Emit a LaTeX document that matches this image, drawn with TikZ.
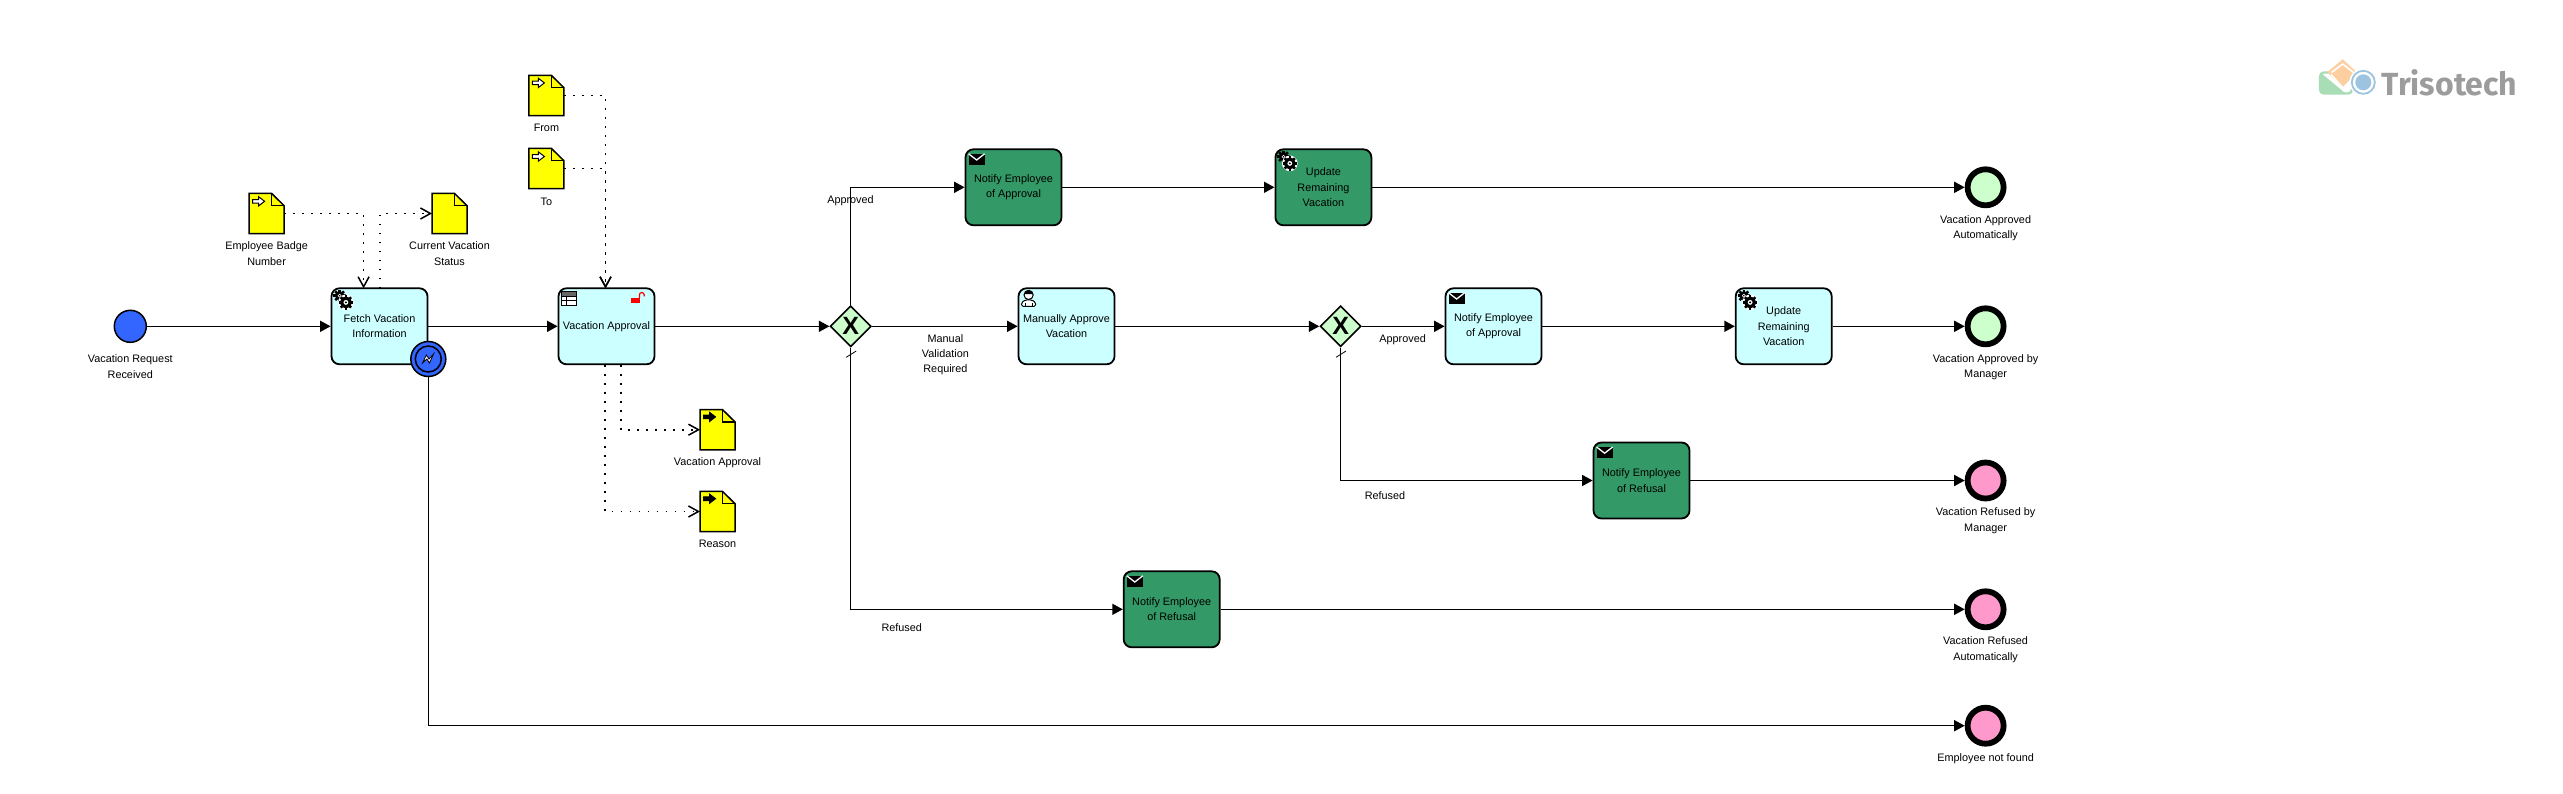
\documentclass[tikz,border=0pt]{standalone}
\usepackage{fontspec}
\setmainfont{Liberation Sans}
\newfontfamily\logofont{Fira Sans}
\usetikzlibrary{positioning,shapes.geometric,arrows.meta,calc}
\definecolor{taskcyan}{HTML}{CCFFFF}
\definecolor{taskgreen}{HTML}{339966}
\definecolor{gatelime}{HTML}{CCFFCC}
\definecolor{startblue}{HTML}{3366FF}
\definecolor{endpink}{HTML}{FF99CC}
\definecolor{docyellow}{HTML}{FFFF00}
\definecolor{lockred}{HTML}{FF0000}
\definecolor{logogrey}{HTML}{9C9C9C}
\definecolor{logogreen}{HTML}{A8DDB5}
\definecolor{logoorange}{HTML}{FDCFA0}
\definecolor{logoblue}{HTML}{9CC4E0}
\newcommand{\gearwheel}[3]{
  \foreach \a in {0,45,...,315}
    \draw[line width=2.5pt] (#1,#2) ++(\a:#3-1) -- ++(\a:2.9);
  \fill (#1,#2) circle (#3+0.3);
  \fill[white] (#1,#2) circle (#3*0.45);
  \fill (#1,#2) circle (#3*0.2);
}
\newcommand{\gearicon}[1]{
  \begin{scope}[shift={(#1.north west)}]
    \gearwheel{9}{8.3}{4.3}
    \fill[white] (15.3,15) circle (7.8);
    \gearwheel{15.3}{15}{5.4}
  \end{scope}
}
\newcommand{\mailicon}[1]{
  \begin{scope}[shift={(#1.north west)}]
    \fill (4,5.7) rectangle (20,16.7);
    \draw[white, line width=1.3pt] (4,5.4) -- (12,11.6) -- (20,5.4);
  \end{scope}
}
\newcommand{\usericon}[1]{
  \begin{scope}[shift={(#1.north west)}]
    \draw[line width=1pt, fill=white, rounded corners=1.5pt] (4,19) -- (4,15) -- (8,12.5) -- (14,12.5) -- (18,15) -- (18,19) -- cycle;
    \draw[line width=0.7pt] (7.5,19) -- (7.5,15.5) (14.5,19) -- (14.5,15.5);
    \fill[white, draw=black, line width=1pt] (11,7.5) circle (4.6);
    \fill (6.4,7.5) arc (180:360:4.6) -- (14.6,6.8) -- (7.4,6.8) -- cycle;
  \end{scope}
}
\newcommand{\tableicon}[1]{
  \begin{scope}[shift={(#1.north west)}]
    \fill[white] (4,4) rectangle (18.6,17.7);
    \fill[black!60] (4,4) rectangle (18.6,8.6);
    \draw[line width=0.9pt] (4,4) rectangle (18.6,17.7) (4,8.6) -- (18.6,8.6) (4,13.1) -- (18.6,13.1) (9,8.6) -- (9,17.7);
  \end{scope}
}
\newcommand{\unlockicon}[1]{
  \begin{scope}[shift={(#1.north west)}]
    \fill[lockred] (73.4,10.4) rectangle (82.6,15.4);
    \draw[lockred, line width=1.2pt] (81.8,10.4) -- (81.8,7.5) arc (180:360:2.4) -- (86.6,9);
  \end{scope}
}
\newcommand{\docarrow}[3]{
  \begin{scope}[shift={(#1.north west)}]
    \draw[fill=#2, line width=1pt] (3.5,#3-1.8) -- (9.5,#3-1.8) -- (9.5,#3-4.6) -- (15.5,#3) -- (9.5,#3+4.6) -- (9.5,#3+1.8) -- (3.5,#3+1.8) -- cycle;
  \end{scope}
}
\begin{document}
\begin{tikzpicture}[x=1pt, y=-1pt,
    every node/.style={inner sep=0pt},
    txt/.style={font=\fontsize{10.85}{15.3}\selectfont, align=center},
    lbl/.style={txt, yshift=-1.3pt},
    tasknode/.style={txt, draw=black, line width=1.8pt, rounded corners=8pt, minimum width=96, minimum height=76},
    cyantask/.style={tasknode, fill=taskcyan},
    greentask/.style={tasknode, fill=taskgreen},
    gateway/.style={diamond, aspect=1, draw=black, line width=1.6pt, fill=gatelime, minimum width=41, minimum height=41, font=\fontsize{25}{25}\selectfont\bfseries},
    startevent/.style={circle, draw=black, line width=1.5pt, fill=startblue, minimum size=32},
    endevent/.style={circle, draw=black, line width=5.8pt, minimum size=36},
    docbox/.style={minimum width=35, minimum height=40.4, outer sep=0pt},
    flow/.style={draw=black, line width=1.5pt, -{Triangle[length=10.5pt, width=11pt]}},
    dataflow/.style={draw=black, line width=1.7pt, dash pattern=on 1.8pt off 7.2pt, -{Straight Barb[length=10pt, width=11pt, line width=1.5pt]}}]
      \useasboundingbox (0,0) rectangle (2563,793);
      \fill[white] (0,0) rectangle (2563,793);

      \node[startevent] (start) at (130.3,326.3) {};
      \node[cyantask] (fetch) at (379.5,326.3) {Fetch Vacation\\Information};
      \node[cyantask] (approval) at (606.5,326.3) {Vacation Approval};
      \node[gateway] (gateone) at (850.7,326.3) {X};
      \node[greentask] (notifytop) at (1013.5,187.3) {Notify Employee\\of Approval};
      \node[greentask] (updatetop) at (1323.4,187.3) {Update\\Remaining\\Vacation};
      \node[cyantask] (manual) at (1066.5,326.3) {Manually Approve\\Vacation};
      \node[gateway] (gatetwo) at (1340.6,326.3) {X};
      \node[cyantask] (notifymid) at (1493.5,326.3) {Notify Employee\\of Approval};
      \node[cyantask] (updatemid) at (1783.7,326.3) {Update\\Remaining\\Vacation};
      \node[greentask] (refusemid) at (1641.5,480.5) {Notify Employee\\of Refusal};
      \node[greentask] (refuselow) at (1171.7,609.3) {Notify Employee\\of Refusal};

      \node[endevent, fill=gatelime] (endauto) at (1985.6,187.3) {};
      \node[endevent, fill=gatelime] (endmanager) at (1985.6,326.3) {};
      \node[endevent, fill=endpink] (endrefmanager) at (1985.6,480.5) {};
      \node[endevent, fill=endpink] (endrefauto) at (1985.6,609.3) {};
      \node[endevent, fill=endpink] (endnotfound) at (1985.6,725.7) {};

      \node[docbox] (badge) at (266.6,213.5) {};
      \node[docbox] (status) at (449.5,213.5) {};
      \node[docbox] (datafrom) at (546.4,95.5) {};
      \node[docbox] (datato) at (546.4,168.5) {};
      \node[docbox] (dataappr) at (717.5,429.7) {};
      \node[docbox] (reason) at (717.5,511.5) {};
      \foreach \d in {badge,status,datafrom,datato,dataappr,reason}{
        \begin{scope}[shift={(\d.north west)}]
          \draw[fill=docyellow, line width=1.5pt] (0,0) -- (22.4,0) -- (35,12.4) -- (35,40.4) -- (0,40.4) -- cycle;
          \draw[line width=1.5pt] (22.4,0) -- (22.4,12.4) -- (35,12.4);
        \end{scope}
      }
      \docarrow{badge}{white}{8}
      \docarrow{datafrom}{white}{7.6}
      \docarrow{datato}{white}{8.2}
      \docarrow{dataappr}{black}{7.4}
      \docarrow{reason}{black}{7.4}

      \gearicon{fetch}
      \tableicon{approval}
      \unlockicon{approval}
      \mailicon{notifytop}
      \gearicon{updatetop}
      \usericon{manual}
      \mailicon{notifymid}
      \gearicon{updatemid}
      \mailicon{refusemid}
      \mailicon{refuselow}

      \node[circle, draw=black, line width=1.5pt, fill=startblue, minimum size=35] (boundary) at (428.3,359) {};
      \draw[line width=1.5pt] (boundary) circle (13);
      \draw[fill=white, line width=0.8pt, shift={(boundary)}] (-5.7,3.9) -- (-2,-4) -- (0.7,0) -- (5.2,-5) -- (1.2,4) -- (-1.4,0) -- cycle;

      \coordinate (fetchin) at (363.6,288.3);
      \coordinate (fetchout) at (379.7,288.3);
      \coordinate (approvalin) at (605.5,288.3);
      \coordinate (approvaloutb) at (605.3,364.7);
      \coordinate (approvalouta) at (621.3,364.7);
      \coordinate (slashonea) at (846.2,357.3);
      \coordinate (slashoneb) at (856.2,351);
      \coordinate (slashtwoa) at (1336,357.3);
      \coordinate (slashtwob) at (1346,351);

      \draw[flow] (start) -- (fetch);
      \draw[flow] (fetch) -- (approval);
      \draw[flow] (approval) -- (gateone);
      \draw[flow] (gateone) |- (notifytop);
      \draw[flow] (notifytop) -- (updatetop);
      \draw[flow] (updatetop) -- (endauto);
      \draw[flow] (gateone) -- (manual);
      \draw[flow] (manual) -- (gatetwo);
      \draw[flow] (gatetwo) -- (notifymid);
      \draw[flow] (notifymid) -- (updatemid);
      \draw[flow] (updatemid) -- (endmanager);
      \draw[flow] (gatetwo) |- (refusemid);
      \draw[flow] (refusemid) -- (endrefmanager);
      \draw[flow] (gateone) |- (refuselow);
      \draw[flow] (refuselow) -- (endrefauto);
      \draw[flow] (boundary) |- (endnotfound);
      \draw[line width=0.8pt] (slashonea) -- (slashoneb);
      \draw[line width=0.8pt] (slashtwoa) -- (slashtwob);

      \draw[dataflow] (badge) -| (fetchin);
      \draw[dataflow] (fetchout) |- (status);
      \draw[dataflow] (datafrom) -| (approvalin);
      \draw[dataflow] (datato) -| (approvalin);
      \draw[dataflow] (approvalouta) |- (dataappr);
      \draw[dataflow] (approvaloutb) |- (reason);

      \node[lbl] (startlabel) at (130.3,365.3) {Vacation Request\\Received};
      \node[lbl] (badgelabel) at (266.6,252.3) {Employee Badge\\Number};
      \node[lbl] (statuslabel) at (449.5,252.3) {Current Vacation\\Status};
      \node[lbl] (fromlabel) at (546.4,127) {From};
      \node[lbl] (tolabel) at (546.4,201) {To};
      \node[lbl] (apprlabel) at (717.5,461) {Vacation Approval};
      \node[lbl] (reasonlabel) at (717.5,543) {Reason};
      \node[lbl] (approvedtop) at (850.5,199) {Approved};
      \node[lbl] (manualflow) at (945.4,353.3) {Manual\\Validation\\Required};
      \node[lbl] (approvedmid) at (1402.6,338.3) {Approved};
      \node[lbl] (refusedmid) at (1385,494.3) {Refused};
      \node[lbl] (refusedlow) at (901.7,626.3) {Refused};
      \node[lbl] (endautolabel) at (1985.6,226.7) {Vacation Approved\\Automatically};
      \node[lbl] (endmanagerlabel) at (1985.6,365.7) {Vacation Approved by\\Manager};
      \node[lbl] (endrefmanagerlabel) at (1985.6,519.5) {Vacation Refused by\\Manager};
      \node[lbl] (endrefautolabel) at (1985.6,648.5) {Vacation Refused\\Automatically};
      \node[lbl] (endnotfoundlabel) at (1985.6,757) {Employee not found};

      \fill[logogreen] (2321,93) -- (2321,73) -- (2345,93) -- cycle;
      \draw[logogreen, line width=2.4pt, rounded corners=4pt] (2320,72.5) rectangle (2352,93.5);
      \fill[logoorange] (2342.7,59.3) -- (2358,73.3) -- (2342.7,88.3) -- (2327.3,72) -- cycle;
      \draw[white, line width=1.6pt] (2331.5,72.5) -- (2342.7,64) -- (2353.5,72.5);
      \draw[white, line width=1.6pt] (2331,74.5) -- (2343,88) -- (2353,78);
      \fill[white] (2363.3,82.3) circle (14);
      \draw[logoblue, line width=1.8pt] (2363.3,82.3) circle (11.5);
      \fill[logoblue] (2363.3,82.3) circle (8);
      \node[text=logogrey, font=\logofont\bfseries\fontsize{32}{32}\selectfont] (logotext) at (2449.5,83) {Trisotech};
    \end{tikzpicture}
\end{document}
